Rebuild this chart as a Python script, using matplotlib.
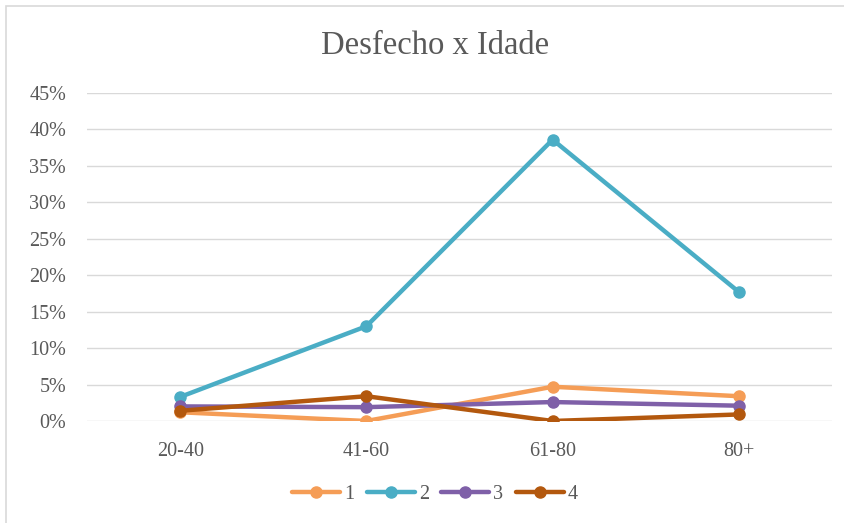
import matplotlib.pyplot as plt
from matplotlib.patches import Rectangle
from matplotlib.ticker import FuncFormatter

categories = ["20-40", "41-60", "61-80", "80+"]
s1 = [1.2, 0.0, 4.7, 3.4]
s2 = [3.3, 13.0, 38.6, 17.7]
s3 = [2.0, 1.9, 2.6, 2.1]
s4 = [1.4, 3.4, 0.0, 0.9]
series_names = ["1", "2", "3", "4"]
colors = ["#F59D56", "#4AADC5", "#7F60A8", "#B3580E"]

plt.rcParams['font.family'] = ['Liberation Serif', 'DejaVu Serif']

fig = plt.figure(figsize=(8.45, 5.23), dpi=100)
fig.patches.append(Rectangle((6 / 845, -0.01), 1.0, 1 - 6 / 523 + 0.01,
                             transform=fig.transFigure, fill=False,
                             edgecolor="#D9D9D9", linewidth=1.2))
ax = fig.add_axes([87 / 845, 1 - 421 / 523, (832 - 87) / 845, (421 - 93) / 523])

x = range(len(categories))
for vals, name, c in zip([s1, s2, s3, s4], series_names, colors):
    ax.plot(x, [v / 100 for v in vals], color=c, linewidth=3.2, marker="o",
            markersize=8, label=name, solid_capstyle="round")

ax.set_xlim(-0.5, len(categories) - 0.5)
ax.set_ylim(0, 0.45)
ax.set_yticks([i * 0.05 for i in range(10)])
ax.yaxis.set_major_formatter(FuncFormatter(lambda v, p: f"{v * 100:.0f}%"))
ax.set_xticks(list(x))
ax.set_xticklabels(categories)
ax.grid(axis="y", color="#D9D9D9", linewidth=1)
ax.set_axisbelow(True)
for sp in ax.spines.values():
    sp.set_visible(False)
ax.tick_params(length=0, labelsize=14.5, colors="#595959")
ax.tick_params(axis="x", pad=15)
ax.tick_params(axis="y", pad=15)

fig.text(435 / 845, 1 - 46 / 523, "Desfecho x Idade", ha="center", va="center",
         fontsize=23.5, color="#595959")

fig.legend(loc="center", bbox_to_anchor=(435 / 845, 1 - 494 / 523), ncol=4,
           frameon=False, fontsize=14.5, labelcolor="#595959",
           handlelength=2.4, columnspacing=0.6, handletextpad=0.2)

fig.savefig("out.png", dpi=100)
